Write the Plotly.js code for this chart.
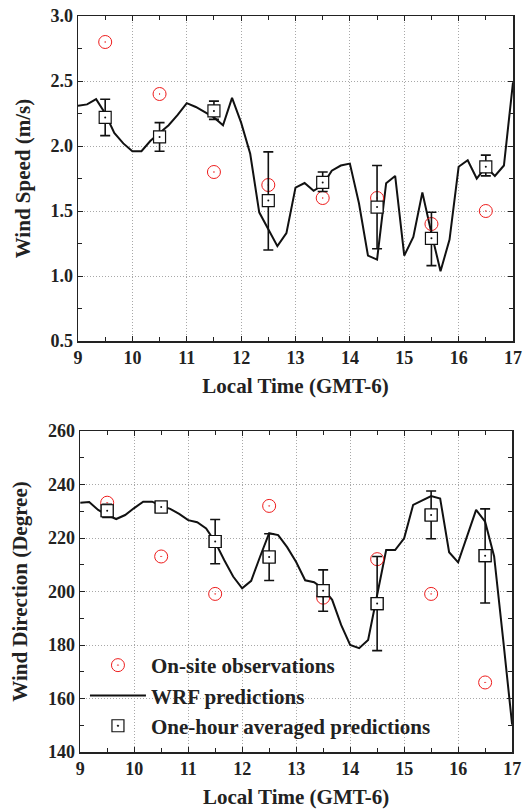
<!DOCTYPE html>
<html>
<head>
<meta charset="utf-8">
<script src="https://cdn.plot.ly/plotly-3.0.1.min.js"></script>
<style>html,body{margin:0;padding:0;background:#fff;}#chart{width:523px;height:810px;}</style>
</head>
<body>
<div id="chart"></div>
<script>
// ---- data ----
const wrfTime = [9.000,9.167,9.333,9.500,9.667,9.833,10.000,10.167,10.333,10.500,10.667,10.833,
  11.000,11.167,11.333,11.500,11.667,11.833,12.000,12.167,12.333,12.500,12.667,12.833,
  13.000,13.167,13.333,13.500,13.667,13.833,14.000,14.167,14.333,14.500,14.667,14.833,
  15.000,15.167,15.333,15.500,15.667,15.833,16.000,16.167,16.333,16.500,16.667,16.833,17.000];
const wrfSpeed = [2.31,2.32,2.36,2.25,2.10,2.02,1.96,1.96,2.04,2.10,2.16,2.24,
  2.33,2.30,2.26,2.22,2.16,2.37,2.18,1.94,1.49,1.36,1.23,1.33,
  1.68,1.715,1.655,1.70,1.81,1.85,1.865,1.56,1.157,1.126,1.714,1.77,
  1.157,1.30,1.643,1.33,1.037,1.28,1.84,1.89,1.75,1.84,1.77,1.85,2.49];
const wrfDir = [233.2,233.5,230.5,228.6,227.1,228.6,231.2,233.6,233.6,232.0,230.9,229.0,
  226.7,225.9,223.6,218.5,211.8,205.6,201.2,204.0,213.1,221.8,221.1,216.6,
  211.0,204.2,203.5,201.0,196.9,187.5,180.0,178.8,181.9,199.0,215.5,215.5,
  219.9,232.4,234.2,235.7,234.8,214.7,210.9,220.5,230.5,226.1,213.1,182.2,150.2];

const hourMid = [9.5,10.5,11.5,12.5,13.5,14.5,15.5,16.5];
const obsSpeed = [2.80,2.40,1.80,1.70,1.60,1.60,1.40,1.50];
const avgSpeed = [2.22,2.07,2.27,1.58,1.72,1.53,1.29,1.84];
const avgSpeedHi = [2.36,2.18,2.345,1.955,1.80,1.85,1.49,1.93];
const avgSpeedLo = [2.08,1.96,2.205,1.20,1.65,1.21,1.08,1.77];

const obsDir = [233.2,213.1,199.1,232.0,197.7,212.1,199.1,166.0];
const avgDir = [230.2,231.6,218.7,212.9,200.3,195.5,228.6,213.4];
const avgDirHi = [232.6,233.5,226.9,221.6,208.1,213.1,237.6,230.9];
const avgDirLo = [227.7,229.7,210.4,204.1,192.6,177.9,219.7,195.7];

const xTicks = [9,10,11,12,13,14,15,16,17];
const speedTicks = [0.5,1.0,1.5,2.0,2.5,3.0];
const speedTickText = ['0.5','1.0','1.5','2.0','2.5','3.0'];
const dirTicks = [140,160,180,200,220,240,260];

const legendNames = ['On-site observations','WRF predictions','One-hour averaged predictions'];
const xTitle = 'Local Time (GMT-6)';
const ySpeedTitle = 'Wind Speed (m/s)';
const yDirTitle = 'Wind Direction (Degree)';

// ---- traces ----
const serif = "'Liberation Serif', 'Times New Roman', 'DejaVu Serif', serif";
function up(v, hi){ return hi.map((h,i)=>h-v[i]); }
function down(v, lo){ return lo.map((l,i)=>v[i]-l); }

const lineStyle = {color:'#111', width:2};
const obsMarker = {symbol:'circle-open-dot', size:13, color:'#ee1c1c', line:{width:1, color:'#ee1c1c'}};
const avgMarker = {symbol:'square', size:12, color:'#ffffff', line:{width:1.2, color:'#111'}};
const dotMarker = {symbol:'circle', size:2, color:'#111'};

function errBar(v, hi, lo){
  return {type:'data', symmetric:false, array:up(v,hi), arrayminus:down(v,lo), color:'#111', thickness:1.6, width:5};
}

const traces = [
  {x:wrfTime, y:wrfSpeed, mode:'lines', line:lineStyle, xaxis:'x', yaxis:'y', showlegend:false, name:legendNames[1]},
  {x:hourMid, y:obsSpeed, mode:'markers', marker:obsMarker, xaxis:'x', yaxis:'y', showlegend:false, name:legendNames[0]},
  {x:hourMid, y:avgSpeed, mode:'markers', marker:avgMarker, error_y:errBar(avgSpeed,avgSpeedHi,avgSpeedLo), xaxis:'x', yaxis:'y', showlegend:false, name:legendNames[2]},
  {x:hourMid, y:avgSpeed, mode:'markers', marker:dotMarker, xaxis:'x', yaxis:'y', showlegend:false, hoverinfo:'skip'},

  {x:wrfTime, y:wrfDir, mode:'lines', line:lineStyle, xaxis:'x2', yaxis:'y2', name:legendNames[1], legendrank:2, legendgroup:'b'},
  {x:hourMid, y:obsDir, mode:'markers', marker:obsMarker, xaxis:'x2', yaxis:'y2', name:legendNames[0], legendrank:1, legendgroup:'a'},
  {x:hourMid, y:avgDir, mode:'markers', marker:{symbol:'square-open-dot', size:12, color:'#111', line:{width:1.2,color:'#111'}}, error_y:errBar(avgDir,avgDirHi,avgDirLo), xaxis:'x2', yaxis:'y2', name:legendNames[2], legendrank:3, legendgroup:'c'},
  {x:hourMid, y:avgDir, mode:'markers', marker:avgMarker, xaxis:'x2', yaxis:'y2', showlegend:false, hoverinfo:'skip'},
  {x:hourMid, y:avgDir, mode:'markers', marker:dotMarker, xaxis:'x2', yaxis:'y2', showlegend:false, hoverinfo:'skip'}
];

const tickFont = {family:serif, size:18, color:'#222', weight:'bold'};
const titleFont = {family:serif, size:21, color:'#222', weight:'bold'};
const gridStyle = {showgrid:true, gridcolor:'#a8a8a8', griddash:'1px,2px', gridwidth:1};

function xAxis(domain, anchor){
  return Object.assign({domain:domain, anchor:anchor, range:[9,17], tickvals:xTicks, ticks:'inside', ticklen:5, tickwidth:1,
    tickcolor:'#222', showline:true, linecolor:'#222', linewidth:1.5, mirror:'allticks', zeroline:false,
    minor:{dtick:0.5, tick0:9, ticks:'inside', ticklen:4, tickcolor:'#222', showgrid:false},
    tickfont:tickFont, title:{text:xTitle, font:titleFont, standoff:11}}, gridStyle);
}

const layout = {
  width:523, height:810,
  font:{family:serif},
  margin:{l:78, r:10, t:16, b:58},
  paper_bgcolor:'#fff', plot_bgcolor:'#fff',
  showlegend:true,
  legend:{x:0.016, y:0.1454, xanchor:'left', yanchor:'top', bgcolor:'rgba(0,0,0,0)',
    font:{family:serif, size:21, color:'#222', weight:'bold'}, traceorder:'grouped', tracegroupgap:0, itemwidth:56},
  xaxis: xAxis([0,1],'y'),
  yaxis: Object.assign({domain:[0.5584,1], anchor:'x', range:[0.5,3.0], tickvals:speedTicks, ticktext:speedTickText,
    ticks:'inside', ticklen:5, tickcolor:'#222', showline:true, linecolor:'#222', linewidth:1.5, mirror:'allticks', zeroline:false,
    minor:{dtick:0.25, tick0:0.5, ticks:'inside', ticklen:4, tickcolor:'#222', showgrid:false},
    tickfont:tickFont, title:{text:ySpeedTitle, font:titleFont, standoff:14}}, gridStyle),
  xaxis2: xAxis([0.005,0.998],'y2'),
  yaxis2: Object.assign({domain:[0,0.4361], anchor:'x2', range:[140,260], tickvals:dirTicks,
    ticks:'inside', ticklen:5, tickcolor:'#222', showline:true, linecolor:'#222', linewidth:1.5, mirror:'allticks', zeroline:false,
    minor:{dtick:10, tick0:140, ticks:'inside', ticklen:4, tickcolor:'#222', showgrid:false},
    tickfont:tickFont, title:{text:yDirTitle, font:titleFont, standoff:14}}, gridStyle)
};

Plotly.newPlot('chart', traces, layout, {staticPlot:true, displayModeBar:false});
</script>
</body>
</html>
